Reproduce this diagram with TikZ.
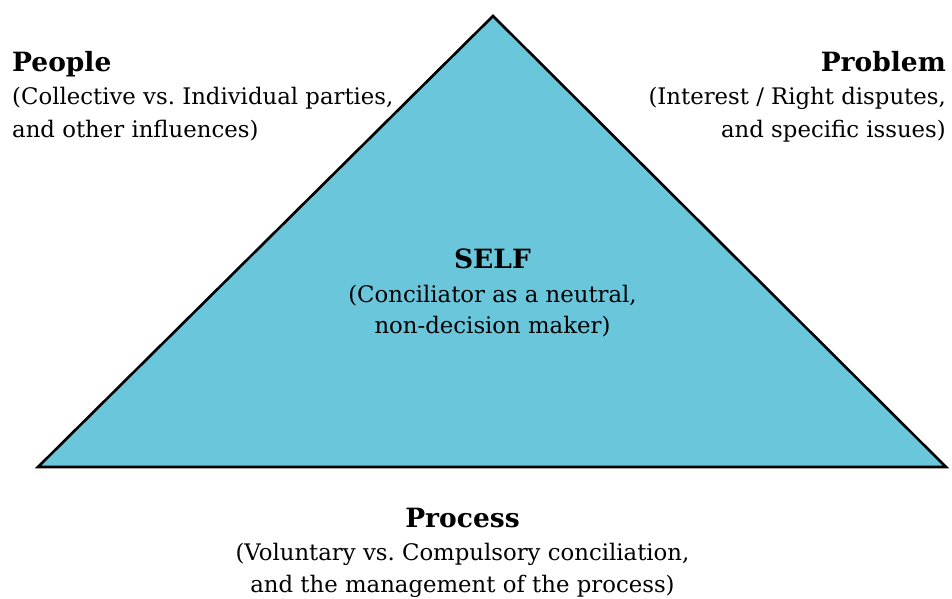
\documentclass[tikz,border=0pt]{standalone}
\usepackage{fontspec}
\setmainfont{DejaVu Serif}
\frenchspacing
\definecolor{trifill}{HTML}{6AC6DB}
\tikzset{
  head/.style={inner sep=0pt, font=\bfseries\fontsize{26.5}{30}\selectfont},
  sub/.style={inner sep=0pt, font=\fontsize{22.8}{26}\selectfont},
}
\begin{document}
\begin{tikzpicture}[x=1pt,y=-1pt]
\useasboundingbox (0,0) rectangle (952,599);
\coordinate (apex) at (493,16);
\coordinate (bl) at (38,467);
\coordinate (br) at (946,467);
\draw[fill=trifill, line width=2.6pt, line join=miter] (apex) -- (bl) -- (br) -- cycle;
% People
\node[head, anchor=base west] (people) at (12,72) {People};
\node[sub, anchor=base west] (people1) at (12,105) {(Collective vs. Individual parties,};
\node[sub, anchor=base west] (people2) at (12,137) {and other influences)};
% Problem
\node[head, anchor=base east] (problem) at (946,72) {Problem};
\node[sub, anchor=base east] (problem1) at (946,105) {(Interest / Right disputes,};
\node[sub, anchor=base east] (problem2) at (946,137) {and specific issues)};
% Self
\node[head, anchor=base] (self) at (492.5,268) {SELF};
\node[sub, anchor=base] (self1) at (492.5,302) {(Conciliator as a neutral,};
\node[sub, anchor=base] (self2) at (492.5,333) {non-decision maker)};
% Process
\node[head, anchor=base] (process) at (462.5,527) {Process};
\node[sub, anchor=base] (process1) at (462.5,560) {(Voluntary vs. Compulsory conciliation,};
\node[sub, anchor=base] (process2) at (462.5,592) {and the management of the process)};
\end{tikzpicture}
\end{document}
